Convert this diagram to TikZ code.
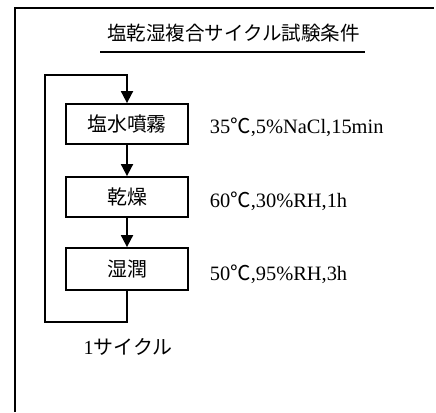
\documentclass[tikz,border=0pt]{standalone}
\usepackage{fontspec}
\setmainfont{Liberation Serif}
\newfontfamily\cjk{Noto Sans CJK JP}
\usetikzlibrary{arrows.meta}
\begin{document}
\begin{tikzpicture}[x=1bp,y=-1bp, line width=1.8bp,
  stepbox/.style={draw, minimum width=122bp, minimum height=40bp, inner sep=0pt,
    font=\cjk\fontsize{20}{24}\selectfont},
  lab/.style={anchor=base west, inner sep=0pt, font=\fontsize{20.5}{24}\selectfont},
  arr/.style={-{Triangle[length=12bp,width=12bp]}}]
\useasboundingbox (0,0) rectangle (436,412);
% frame
\coordinate (f1) at (15,412);
\coordinate (f2) at (15,8);
\coordinate (f3) at (434,8);
\draw (f1) -- (f2) -- (f3);
% title
\node[inner sep=0pt, font=\cjk\fontsize{19.6}{24}\selectfont] (title) at (233.5,33) {塩乾湿複合サイクル試験条件};
\coordinate (u1) at (100,52);
\coordinate (u2) at (365,52);
\draw (u1) -- (u2);
% steps
\node[stepbox] (s1) at (127,124) {塩水噴霧};
\node[stepbox] (s2) at (127,197) {乾燥};
\node[stepbox, minimum height=42bp] (s3) at (127,269) {湿潤};
\draw[arr] (s1) -- (s2);
\draw[arr] (s2) -- (s3);
% loop
\coordinate (c1) at (127,322);
\coordinate (c2) at (45,322);
\coordinate (c3) at (45,75);
\coordinate (c4) at (127,75);
\draw[arr] (s3.south) -- (c1) -- (c2) -- (c3) -- (c4) -- (s1.north);
% labels
\node[lab] (l1) at (209,133) {35{\cjk ℃},5\%NaCl,15min};
\node[lab] (l2) at (209,207) {60{\cjk ℃},30\%RH,1h};
\node[lab] (l3) at (209,280) {50{\cjk ℃},95\%RH,3h};
\node[inner sep=0pt, font=\fontsize{20}{24}\selectfont] (cyc) at (128,347) {1{\cjk サイクル}};
\end{tikzpicture}
\end{document}
